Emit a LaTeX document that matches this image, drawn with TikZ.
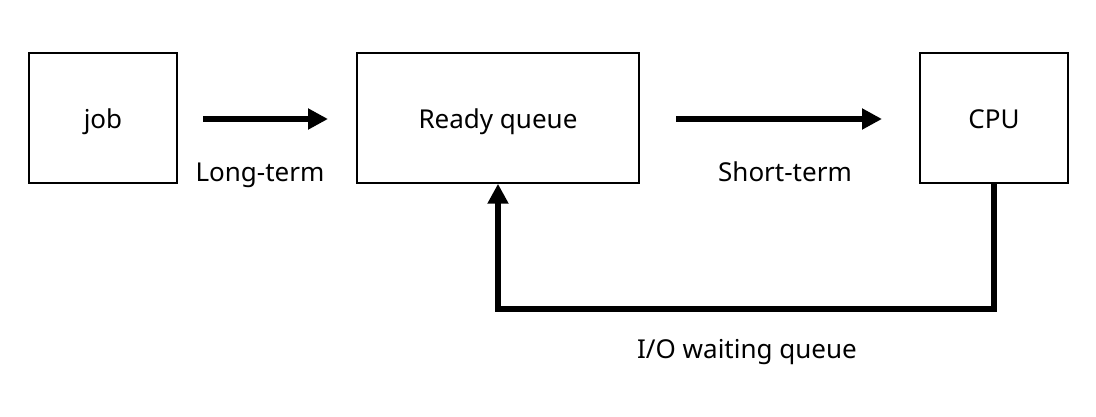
\documentclass[tikz,border=0pt]{standalone}
\usepackage{fontspec}
\setmainfont{Noto Sans}
\usetikzlibrary{arrows.meta}
\begin{document}
\begin{tikzpicture}[x=1pt,y=-1pt,
  txt/.style={font=\fontsize{26}{30}\selectfont,inner sep=0pt,anchor=base},
  box/.style={draw,line width=1.5pt,minimum height=130pt,inner sep=0pt},
  arr/.style={line width=6pt,-{Triangle[length=20pt,width=20pt]}}]
\useasboundingbox (0,0) rectangle (1096,417);
\node[box,minimum width=148pt] (job) at (103,118) {};
\node[box,minimum width=282pt] (rq) at (498,118) {};
\node[box,minimum width=148pt] (cpu) at (994,118) {};
\node[txt] (jobt) at (103,129) {job};
\node[txt] (rqt) at (498,129) {Ready queue};
\node[txt] (cput) at (994,129) {CPU};
\coordinate (a1s) at (203,119);
\coordinate (a1e) at (328,119);
\coordinate (a2s) at (676,119);
\coordinate (a2e) at (882,119);
\draw[arr] (a1s) -- (a1e);
\draw[arr] (a2s) -- (a2e);
\node[txt] (lt) at (260,182) {Long-term};
\node[txt] (st) at (785,182) {Short-term};
\draw[arr,line join=miter] (cpu.south) -- ++(0,125) -| (rq.south);
\node[txt] (io) at (747,358) {I/O waiting queue};
\end{tikzpicture}
\end{document}
